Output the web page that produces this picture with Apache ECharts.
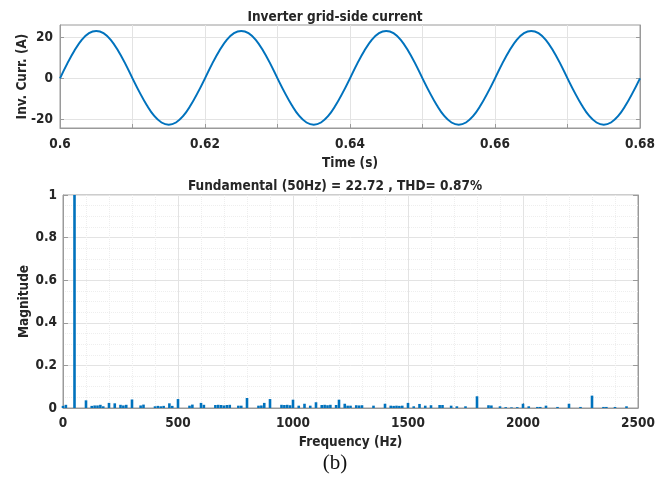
<!DOCTYPE html>
<html>
<head>
<meta charset="utf-8">
<script src="https://cdn.jsdelivr.net/npm/echarts@6/dist/echarts.min.js"></script>
<style>
  html, body { margin: 0; padding: 0; background: #fff; }
  #chart { width: 670px; height: 480px; }
</style>
</head>
<body>
<div id="chart"></div>
<script>
// Inverter current waveform, sampled every 1 ms
var timeStart = 0.6;
var timeStep = 0.001;
var currentA = [
  0, 7.2, 13.6, 18.8, 22.1, 23.2, 22.1, 18.8, 13.6, 7.2,
  0, -7.0, -13.3, -18.4, -21.6, -22.7, -21.6, -18.4, -13.3, -7.0,
  0, 7.2, 13.6, 18.8, 22.1, 23.2, 22.1, 18.8, 13.6, 7.2,
  0, -7.0, -13.3, -18.4, -21.6, -22.7, -21.6, -18.4, -13.3, -7.0,
  0, 7.2, 13.6, 18.8, 22.1, 23.2, 22.1, 18.8, 13.6, 7.2,
  0, -7.0, -13.3, -18.4, -21.6, -22.7, -21.6, -18.4, -13.3, -7.0,
  0, 7.2, 13.6, 18.8, 22.1, 23.2, 22.1, 18.8, 13.6, 7.2,
  0, -7.0, -13.3, -18.4, -21.6, -22.7, -21.6, -18.4, -13.3, -7.0,
  0
];
var timeTickLabels = [0.6, 0.62, 0.64, 0.66, 0.68];
var currentTickLabels = [-20, 0, 20];

// Harmonic spectrum (normalised to the fundamental)
var freqHz = [
  0, 12.5, 50, 100, 125, 137.5, 150, 162.5, 175, 200, 225, 250, 262.5, 275, 300,
  337.5, 350, 400, 412.5, 425, 437.5, 462.5, 475, 500, 550, 562.5, 600, 612.5,
  662.5, 675, 687.5, 700, 712.5, 725, 762.5, 775, 800, 850, 862.5, 875, 900,
  950, 962.5, 975, 987.5, 1000, 1025, 1050, 1075, 1100, 1125, 1137.5, 1150,
  1162.5, 1187.5, 1200, 1225, 1237.5, 1250, 1275, 1287.5, 1300, 1350, 1400,
  1425, 1437.5, 1450, 1462.5, 1475, 1500, 1525, 1550, 1575, 1600, 1637.5, 1650,
  1687.5, 1712.5, 1750, 1800, 1850, 1862.5, 1900, 1925, 1950, 1975, 2000, 2025,
  2062.5, 2075, 2100, 2150, 2200, 2250, 2300, 2350, 2362.5, 2400, 2450
];
var magnitude = [
  0.010, 0.015, 1.0, 0.036, 0.010, 0.012, 0.012, 0.015, 0.008, 0.024, 0.022, 0.015, 0.012, 0.015, 0.040,
  0.012, 0.016, 0.008, 0.010, 0.008, 0.010, 0.022, 0.010, 0.042, 0.011, 0.016, 0.024, 0.015,
  0.014, 0.015, 0.014, 0.012, 0.014, 0.015, 0.011, 0.011, 0.047, 0.011, 0.012, 0.024, 0.042,
  0.015, 0.014, 0.015, 0.013, 0.039, 0.011, 0.020, 0.011, 0.027, 0.014, 0.015, 0.013,
  0.015, 0.014, 0.039, 0.020, 0.011, 0.011, 0.013, 0.012, 0.013, 0.011, 0.020,
  0.011, 0.010, 0.011, 0.010, 0.011, 0.024, 0.008, 0.019, 0.011, 0.013, 0.014, 0.014,
  0.011, 0.008, 0.008, 0.055, 0.013, 0.012, 0.008, 0.004, 0.003, 0.004, 0.020, 0.008,
  0.005, 0.005, 0.011, 0.005, 0.020, 0.005, 0.058, 0.005, 0.005, 0.005, 0.008
];

var blue = '#0072BD';
var textColor = '#262626';
var boxColor = '#9a9a9a';
var gridColor = '#e3e3e3';
var minorGridColor = '#eeeeee';
var font = '"Liberation Sans Narrow", "DejaVu Sans Condensed", "Liberation Sans", sans-serif';
var fontSize = 13.5;

var waveData = currentA.map(function (v, i) {
  return [+(timeStart + i * timeStep).toFixed(3), v];
});
var spectrumData = freqHz.map(function (f, i) { return [f, magnitude[i]]; });

function labelStyle() {
  return { color: textColor, fontFamily: font, fontWeight: 'bold', fontSize: fontSize };
}
function plainNumber(v) { return String(v); }

var chart = echarts.init(document.getElementById('chart'), null, { renderer: 'canvas' });
chart.setOption({
  backgroundColor: '#ffffff',
  animation: false,
  title: [
    { text: 'Inverter grid-side current', left: 'center', top: 5,
      textStyle: labelStyle() },
    { text: 'Fundamental (50Hz) = 22.72 , THD= 0.87%', left: 'center', top: 174,
      textStyle: labelStyle() }
  ],
  grid: [
    { left: 60, right: 30, top: 25, height: 103, show: true, borderColor: boxColor, borderWidth: 1 },
    { left: 63, right: 32, top: 195, height: 213, show: true, borderColor: boxColor, borderWidth: 1 }
  ],
  xAxis: [
    {
      gridIndex: 0, type: 'value', min: 0.6, max: 0.68, interval: 0.01,
      name: 'Time (s)', nameLocation: 'middle', nameGap: 28, nameMoveOverlap: false,
      nameTextStyle: labelStyle(),
      axisLine: { onZero: false, lineStyle: { color: boxColor } },
      axisTick: { inside: true, length: 4, lineStyle: { color: boxColor } },
      axisLabel: Object.assign(labelStyle(), { customValues: timeTickLabels, margin: 9, formatter: plainNumber }),
      splitLine: { show: true, lineStyle: { color: gridColor } }
    },
    {
      gridIndex: 1, type: 'value', min: 0, max: 2500, interval: 500,
      name: 'Frequency (Hz)', nameLocation: 'middle', nameGap: 27, nameMoveOverlap: false,
      nameTextStyle: labelStyle(),
      axisLine: { onZero: false, lineStyle: { color: boxColor } },
      axisTick: { inside: true, length: 5, lineStyle: { color: boxColor } },
      axisLabel: Object.assign(labelStyle(), { margin: 8, formatter: plainNumber }),
      splitLine: { show: true, lineStyle: { color: gridColor } },
      minorTick: { show: false, splitNumber: 5 },
      minorSplitLine: { show: true, lineStyle: { color: minorGridColor, type: 'dotted' } }
    }
  ],
  yAxis: [
    {
      gridIndex: 0, type: 'value', min: -24.3, max: 26.1,
      name: 'Inv. Curr. (A)', nameLocation: 'middle', nameGap: 31, nameMoveOverlap: false,
      nameTextStyle: labelStyle(),
      axisLine: { show: true, onZero: false, lineStyle: { color: boxColor } },
      axisTick: { show: true, inside: true, length: 4, customValues: currentTickLabels, lineStyle: { color: boxColor } },
      axisLabel: Object.assign(labelStyle(), { customValues: currentTickLabels, margin: 7 }),
      splitLine: { show: true, lineStyle: { color: gridColor } }
    },
    {
      gridIndex: 0, type: 'value', min: -24.3, max: 26.1, position: 'right',
      axisLine: { show: true, onZero: false, lineStyle: { color: boxColor } },
      axisTick: { show: true, inside: true, length: 4, customValues: currentTickLabels, lineStyle: { color: boxColor } },
      axisLabel: { show: false },
      splitLine: { show: false }
    },
    {
      gridIndex: 1, type: 'value', min: 0, max: 1, interval: 0.2,
      name: 'Magnitude', nameLocation: 'middle', nameGap: 32, nameMoveOverlap: false,
      nameTextStyle: labelStyle(),
      axisLine: { show: true, onZero: false, lineStyle: { color: boxColor } },
      axisTick: { show: true, inside: true, length: 5, lineStyle: { color: boxColor } },
      axisLabel: Object.assign(labelStyle(), { margin: 6, formatter: plainNumber }),
      splitLine: { show: true, lineStyle: { color: gridColor } },
      minorTick: { show: false, splitNumber: 4 },
      minorSplitLine: { show: true, lineStyle: { color: minorGridColor, type: 'dotted' } }
    },
    {
      gridIndex: 1, type: 'value', min: 0, max: 1, interval: 0.2, position: 'right',
      axisLine: { show: true, onZero: false, lineStyle: { color: boxColor } },
      axisTick: { show: true, inside: true, length: 5, lineStyle: { color: boxColor } },
      axisLabel: { show: false },
      splitLine: { show: false }
    }
  ],
  series: [
    {
      type: 'line', xAxisIndex: 0, yAxisIndex: 0, data: waveData,
      smooth: 0.4, showSymbol: false,
      lineStyle: { color: blue, width: 2 }
    },
    {
      type: 'bar', xAxisIndex: 1, yAxisIndex: 2, data: spectrumData,
      barWidth: 2.6, itemStyle: { color: blue }
    }
  ],
  graphic: [
    { type: 'text', left: 'center', top: 453,
      style: { text: '(b)', fontFamily: '"Liberation Serif", "DejaVu Serif", serif', fontSize: 21, fill: '#111' } }
  ]
});
</script>
</body>
</html>
